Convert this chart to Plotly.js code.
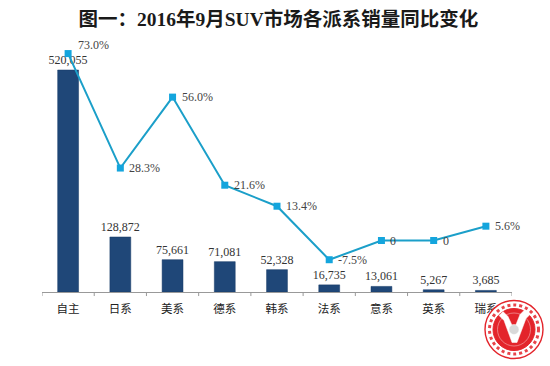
<!DOCTYPE html>
<html><head><meta charset="utf-8">
<script src="https://cdn.plot.ly/plotly-3.0.1.min.js"></script>
<style>html,body{margin:0;padding:0;background:#fff}</style></head>
<body><div id="c" style="width:550px;height:366px"></div>
<script>
const categories=["自主","日系","美系","德系","韩系","法系","意系","英系","瑞系"];
const sales=[520055,128872,75661,71081,52328,16735,13061,5267,3685];
const salesLabels=["520,055","128,872","75,661","71,081","52,328","16,735","13,061","5,267","3,685"];
const growth=[73.0,28.3,56.0,21.6,13.4,-7.5,0,0,5.6];
const growthLabels=["73.0%","28.3%","56.0%","21.6%","13.4%","-7.5%","0","0","5.6%"];
const serif='"Liberation Serif","Noto Sans CJK SC",serif';
const cjk='"Noto Sans CJK SC",sans-serif';
const data=[
{type:'bar',x:categories,y:sales,text:salesLabels,textposition:'outside',cliponaxis:false,constraintext:'none',textangle:0,width:0.4,
 marker:{color:'#1f4778',line:{color:'#173a66',width:0.5}},textfont:{family:serif,size:12,color:'#333'},hoverinfo:'skip'},
{type:'scatter',mode:'lines+markers',x:categories,y:growth,yaxis:'y2',cliponaxis:false,
 line:{color:'#1b9fc9',width:2},marker:{symbol:'square',size:7,color:'#14a5dd'},hoverinfo:'skip'}
];
const growthAnnotations=categories.map((c,i)=>({x:c,y:growth[i],xref:'x',yref:'y2',text:growthLabels[i],showarrow:false,xanchor:'left',yanchor:'middle',
 xshift:i===0?8:7,yshift:i===0?9:0,font:{family:serif,size:12,color:'#444'}}));
// seal drawn in pixel offsets from the plot's bottom-right corner (512, 292)
const CX=514,CY=329.5;
const P=(x,y)=>(x-1-512).toFixed(1)+','+(292-(y-1.5)).toFixed(1);
const circ=(r,fill,line,w,dash)=>({type:'circle',xref:'paper',yref:'paper',xsizemode:'pixel',ysizemode:'pixel',xanchor:1,yanchor:0,
 x0:CX-r-512,x1:CX+r-512,y0:292-CY-r,y1:292-CY+r,fillcolor:fill,line:{color:line,width:w,dash:dash||'solid'},layer:'above'});
const pth=(d,fill,line,w)=>({type:'path',xref:'paper',yref:'paper',xsizemode:'pixel',ysizemode:'pixel',xanchor:1,yanchor:0,path:d,fillcolor:fill,line:{color:line,width:w},layer:'above'});
const seal=[
 circ(29,'#fff','#e3242b',1.4),
 circ(24.5,'rgba(0,0,0,0)','#e8444a',3,'dot'),
 circ(21,'#e3242b','#e3242b',1),
 circ(16.5,'rgba(0,0,0,0)','#f2a0a3',0.7),
 pth('M'+P(504,313)+'L'+P(500,317)+'L'+P(505,322)+'L'+P(513,344)+'L'+P(518,344)+'L'+P(527,320)+'L'+P(531,316)+'L'+P(526,311)+'L'+P(521,316)+'L'+P(515,331)+'L'+P(509,318)+'Z','#fff','#fff',0.5),
 circ(5,'#d9d9d9','#fff',0.5)
];
const layout={
 width:550,height:366,paper_bgcolor:'#fff',plot_bgcolor:'#fff',showlegend:false,
 margin:{l:42,r:38,t:40,b:74},
 title:{text:'<b>图一：2016年9月SUV市场各派系销量同比变化</b>',font:{family:serif,size:19.5,color:'#1a1a1a'},x:0.503,xanchor:'center',xref:'paper',y:0.948,yanchor:'middle'},
 xaxis:{type:'category',range:[-0.5,8.5],tickfont:{family:cjk,size:11.5,color:'#222'},ticks:'outside',ticklen:6,tickcolor:'rgba(0,0,0,0)',showline:true,linecolor:'#999',linewidth:1,showgrid:false,fixedrange:true,automargin:false},
 yaxis:{range:[0,590333],visible:false,showgrid:false,zeroline:false},
 yaxis2:{range:[-20.1,78.3],overlaying:'y',visible:false,showgrid:false,zeroline:false},
 annotations:growthAnnotations,
 shapes:[0,1,2,3,4,5,6,7,8,9].map(i=>({type:'line',xref:'x',yref:'paper',x0:i-0.5,x1:i-0.5,y0:0,y1:-0.016,line:{color:'#999',width:1}})).concat(seal)
};
Plotly.newPlot('c',data,layout,{displayModeBar:false,staticPlot:true});
</script></body></html>
